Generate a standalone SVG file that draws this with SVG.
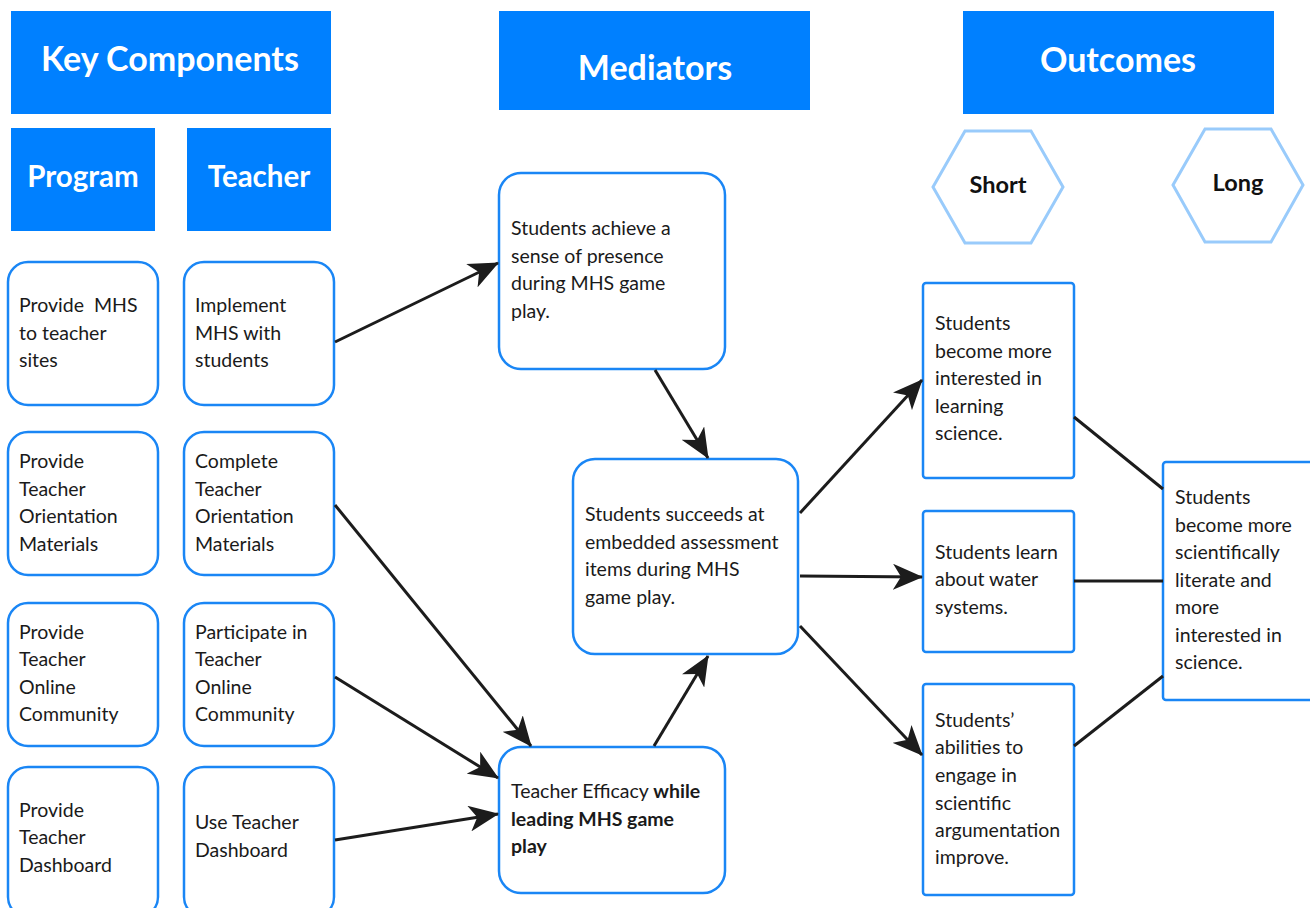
<svg xmlns="http://www.w3.org/2000/svg" width="1310" height="908" viewBox="0 0 1310 908">
<style>
.hdr{fill:#0080ff;}
.ht{fill:#fff;font-family:"Lato","Liberation Sans",sans-serif;font-weight:bold;text-anchor:middle;}
.box{fill:#fff;stroke:#1a86f5;stroke-width:2.5;}
.sq{fill:#fff;stroke:#1a86f5;stroke-width:2.5;}
.hex{fill:#fff;stroke:#99cbfb;stroke-width:3;}
.t{font-family:"Lato","Liberation Sans",sans-serif;font-size:19.5px;fill:#1a1a1a;}
.b{font-weight:bold;}
.hx{font-family:"Lato","Liberation Sans",sans-serif;font-size:23.5px;font-weight:bold;fill:#111;text-anchor:middle;}
.c{stroke:#1c1c1c;stroke-width:3;fill:none;}
.a{marker-end:url(#ah);}
</style>
<defs>
<marker id="ah" viewBox="0 0 30 26" refX="29" refY="13" markerWidth="30" markerHeight="26" markerUnits="userSpaceOnUse" orient="auto">
<path d="M0,0 L30,13 L0,26 L8,13 Z" fill="#1c1c1c"/>
</marker>
</defs>
<rect width="1310" height="908" fill="#fff"/>

<g id="hdr-key"><rect class="hdr" x="11" y="11" width="320" height="103"/><text class="ht" x="170" y="71" font-size="34">Key Components</text></g>
<g id="hdr-med"><rect class="hdr" x="499" y="11" width="311" height="99"/><text class="ht" x="655" y="80" font-size="34">Mediators</text></g>
<g id="hdr-out"><rect class="hdr" x="963" y="11" width="311" height="103"/><text class="ht" x="1118" y="72" font-size="34">Outcomes</text></g>
<g id="hdr-program"><rect class="hdr" x="11" y="128" width="144" height="103"/><text class="ht" x="83" y="187" font-size="29.5">Program</text></g>
<g id="hdr-teacher"><rect class="hdr" x="187" y="128" width="144" height="103"/><text class="ht" x="259" y="187" font-size="29.5">Teacher</text></g>

<g id="hex-short"><polygon class="hex" points="933,187 965,131 1031,131 1063,187 1031,243 965,243"/><text class="hx" x="998" y="193">Short</text></g>
<g id="hex-long"><polygon class="hex" points="1173,185 1205,129 1271,129 1303,185 1271,242 1205,242"/><text class="hx" x="1238" y="191">Long</text></g>

<g id="p1"><rect class="box" x="8" y="262" width="150" height="143" rx="20"/><text class="t"><tspan x="19" y="312">Provide&#160; MHS</tspan><tspan x="19" y="340">to teacher</tspan><tspan x="19" y="367">sites</tspan></text></g>
<g id="t1"><rect class="box" x="184" y="262" width="150" height="143" rx="20"/><text class="t"><tspan x="195" y="312">Implement</tspan><tspan x="195" y="340">MHS with</tspan><tspan x="195" y="367">students</tspan></text></g>
<g id="p2"><rect class="box" x="8" y="432" width="150" height="143" rx="20"/><text class="t"><tspan x="19" y="468">Provide</tspan><tspan x="19" y="496">Teacher</tspan><tspan x="19" y="523">Orientation</tspan><tspan x="19" y="551">Materials</tspan></text></g>
<g id="t2"><rect class="box" x="184" y="432" width="150" height="143" rx="20"/><text class="t"><tspan x="195" y="468">Complete</tspan><tspan x="195" y="496">Teacher</tspan><tspan x="195" y="523">Orientation</tspan><tspan x="195" y="551">Materials</tspan></text></g>
<g id="p3"><rect class="box" x="8" y="603" width="150" height="143" rx="20"/><text class="t"><tspan x="19" y="639">Provide</tspan><tspan x="19" y="666">Teacher</tspan><tspan x="19" y="694">Online</tspan><tspan x="19" y="721">Community</tspan></text></g>
<g id="t3"><rect class="box" x="184" y="603" width="150" height="143" rx="20"/><text class="t"><tspan x="195" y="639">Participate in</tspan><tspan x="195" y="666">Teacher</tspan><tspan x="195" y="694">Online</tspan><tspan x="195" y="721">Community</tspan></text></g>
<g id="p4"><rect class="box" x="8" y="767" width="150" height="150" rx="20"/><text class="t"><tspan x="19" y="817">Provide</tspan><tspan x="19" y="844">Teacher</tspan><tspan x="19" y="872">Dashboard</tspan></text></g>
<g id="t4"><rect class="box" x="184" y="767" width="150" height="150" rx="20"/><text class="t"><tspan x="195" y="829">Use Teacher</tspan><tspan x="195" y="857">Dashboard</tspan></text></g>

<g id="m1"><rect class="box" x="499" y="173" width="226" height="196" rx="22"/><text class="t"><tspan x="511" y="235">Students achieve a</tspan><tspan x="511" y="263">sense of presence</tspan><tspan x="511" y="290">during MHS game</tspan><tspan x="511" y="318">play.</tspan></text></g>
<g id="m2"><rect class="box" x="573" y="459" width="225" height="195" rx="22"/><text class="t"><tspan x="585" y="521">Students succeeds at</tspan><tspan x="585" y="549">embedded assessment</tspan><tspan x="585" y="576">items during MHS</tspan><tspan x="585" y="604">game play.</tspan></text></g>
<g id="m3"><rect class="box" x="499" y="747" width="226" height="146" rx="22"/><text class="t"><tspan x="511" y="798">Teacher Efficacy <tspan class="b">while</tspan></tspan><tspan class="b" x="511" y="826">leading MHS game</tspan><tspan class="b" x="511" y="853">play</tspan></text></g>

<g id="o1"><rect class="sq" x="923" y="283" width="151" height="195" rx="3"/><text class="t"><tspan x="935" y="330">Students</tspan><tspan x="935" y="358">become more</tspan><tspan x="935" y="385">interested in</tspan><tspan x="935" y="413">learning</tspan><tspan x="935" y="440">science.</tspan></text></g>
<g id="o2"><rect class="sq" x="923" y="511" width="151" height="141" rx="3"/><text class="t"><tspan x="935" y="559">Students learn</tspan><tspan x="935" y="586">about water</tspan><tspan x="935" y="614">systems.</tspan></text></g>
<g id="o3"><rect class="sq" x="923" y="684" width="151" height="211" rx="3"/><text class="t"><tspan x="935" y="727">Students’</tspan><tspan x="935" y="754">abilities to</tspan><tspan x="935" y="782">engage in</tspan><tspan x="935" y="810">scientific</tspan><tspan x="935" y="837">argumentation</tspan><tspan x="935" y="864">improve.</tspan></text></g>
<g id="o4"><rect class="sq" x="1163" y="462" width="160" height="238" rx="3"/><text class="t"><tspan x="1175" y="504">Students</tspan><tspan x="1175" y="532">become more</tspan><tspan x="1175" y="559">scientifically</tspan><tspan x="1175" y="587">literate and</tspan><tspan x="1175" y="614">more</tspan><tspan x="1175" y="642">interested in</tspan><tspan x="1175" y="669">science.</tspan></text></g>

<g id="connectors">
<line class="c a" x1="335" y1="342" x2="498" y2="263"/>
<line class="c a" x1="655" y1="370" x2="708" y2="458"/>
<line class="c a" x1="335" y1="505" x2="531" y2="746"/>
<line class="c a" x1="335" y1="677" x2="498" y2="778"/>
<line class="c a" x1="335" y1="840" x2="498" y2="814"/>
<line class="c a" x1="654" y1="746" x2="708" y2="656"/>
<line class="c a" x1="800" y1="513" x2="922" y2="380"/>
<line class="c a" x1="800" y1="576" x2="922" y2="577"/>
<line class="c a" x1="800" y1="626" x2="922" y2="755"/>
<line class="c" x1="1074" y1="417" x2="1163" y2="489"/>
<line class="c" x1="1074" y1="581" x2="1163" y2="581"/>
<line class="c" x1="1074" y1="746" x2="1163" y2="676"/>
</g>
</svg>
